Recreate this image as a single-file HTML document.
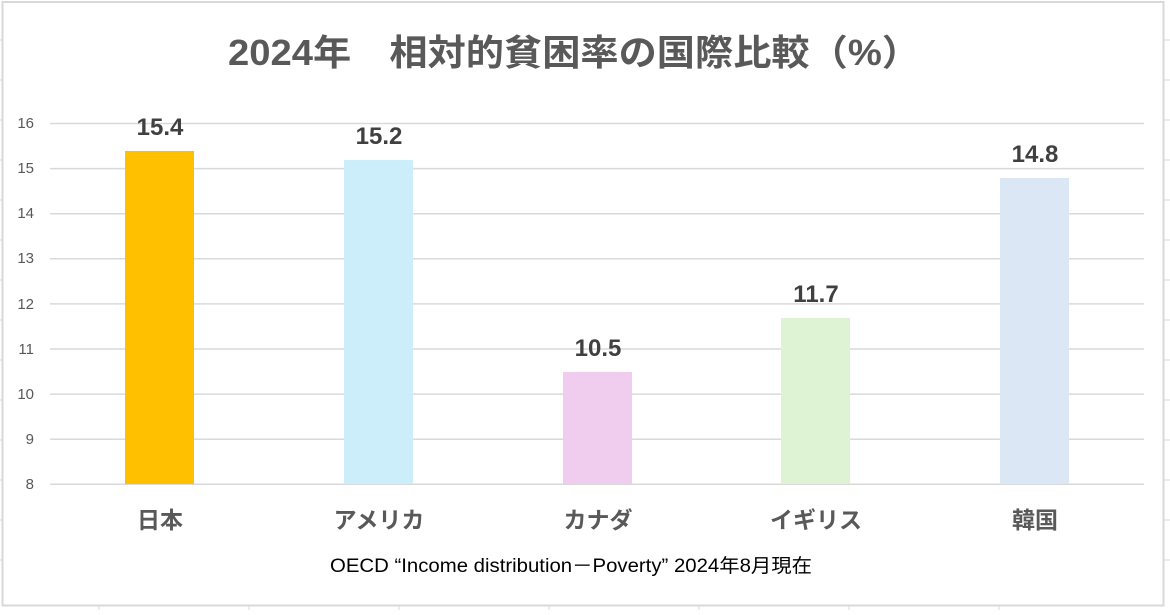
<!DOCTYPE html>
<html><head><meta charset="utf-8"><style>
body{margin:0;background:#fff;}
svg text{font-family:"Liberation Sans","Noto Sans CJK JP",sans-serif;}
</style></head><body>
<svg width="1170" height="610" xmlns="http://www.w3.org/2000/svg">
<rect x="0" y="0" width="1170" height="610" fill="#fff"/>
<g stroke="#d9d9d9" stroke-width="1">
<line x1="0" y1="40" x2="3" y2="40"/><line x1="0" y1="80" x2="3" y2="80"/><line x1="0" y1="120" x2="3" y2="120"/><line x1="0" y1="160" x2="3" y2="160"/><line x1="0" y1="200" x2="3" y2="200"/><line x1="0" y1="240" x2="3" y2="240"/><line x1="0" y1="280" x2="3" y2="280"/><line x1="0" y1="320" x2="3" y2="320"/><line x1="0" y1="360" x2="3" y2="360"/><line x1="0" y1="400" x2="3" y2="400"/><line x1="0" y1="440" x2="3" y2="440"/><line x1="0" y1="480" x2="3" y2="480"/><line x1="0" y1="520" x2="3" y2="520"/><line x1="0" y1="560" x2="3" y2="560"/>
<line x1="1164" y1="40" x2="1170" y2="40"/><line x1="1164" y1="80" x2="1170" y2="80"/><line x1="1164" y1="120" x2="1170" y2="120"/><line x1="1164" y1="160" x2="1170" y2="160"/><line x1="1164" y1="200" x2="1170" y2="200"/><line x1="1164" y1="240" x2="1170" y2="240"/><line x1="1164" y1="280" x2="1170" y2="280"/><line x1="1164" y1="320" x2="1170" y2="320"/><line x1="1164" y1="360" x2="1170" y2="360"/><line x1="1164" y1="400" x2="1170" y2="400"/><line x1="1164" y1="440" x2="1170" y2="440"/><line x1="1164" y1="480" x2="1170" y2="480"/><line x1="1164" y1="520" x2="1170" y2="520"/><line x1="1164" y1="560" x2="1170" y2="560"/>
<line x1="99" y1="606" x2="99" y2="610"/><line x1="249" y1="606" x2="249" y2="610"/><line x1="399" y1="606" x2="399" y2="610"/><line x1="549" y1="606" x2="549" y2="610"/><line x1="699" y1="606" x2="699" y2="610"/><line x1="849" y1="606" x2="849" y2="610"/><line x1="999" y1="606" x2="999" y2="610"/>
</g>
<rect x="2.5" y="2" width="1161" height="603.5" fill="none" stroke="#d9d9d9" stroke-width="2"/>
<text x="228" y="65" textLength="692" lengthAdjust="spacingAndGlyphs" font-size="36" font-weight="bold" fill="#595959">2024年　相対的貧困率の国際比較（%）</text>
<g stroke="#d9d9d9" stroke-width="1.5">
<line x1="50" y1="123.5" x2="1144" y2="123.5"/><line x1="50" y1="168.6" x2="1144" y2="168.6"/><line x1="50" y1="213.7" x2="1144" y2="213.7"/><line x1="50" y1="258.8" x2="1144" y2="258.8"/><line x1="50" y1="303.9" x2="1144" y2="303.9"/><line x1="50" y1="349" x2="1144" y2="349"/><line x1="50" y1="394.1" x2="1144" y2="394.1"/><line x1="50" y1="439.2" x2="1144" y2="439.2"/><line x1="50" y1="484.3" x2="1144" y2="484.3"/>
</g>
<g font-size="15" fill="#595959" text-anchor="end">
<text x="34" y="128">16</text><text x="34" y="173">15</text><text x="34" y="218">14</text><text x="34" y="263">13</text><text x="34" y="309">12</text><text x="34" y="354">11</text><text x="34" y="399">10</text><text x="34" y="444">9</text><text x="34" y="489">8</text>
</g>
<rect x="125" y="151" width="69" height="333" fill="#FFC000"/>
<rect x="344" y="160" width="69" height="324" fill="#CCEEFB"/>
<rect x="563" y="372" width="69" height="112" fill="#F0CDEE"/>
<rect x="781" y="318" width="69" height="166" fill="#DDF3D3"/>
<rect x="1000" y="178" width="69" height="306" fill="#DCE7F6"/>
<g font-size="24" font-weight="bold" fill="#404040" text-anchor="middle">
<text x="160" y="135">15.4</text><text x="379" y="144">15.2</text><text x="598" y="356">10.5</text><text x="816" y="302">11.7</text><text x="1035" y="162">14.8</text>
</g>
<g font-size="23" font-weight="bold" fill="#595959" text-anchor="middle">
<text x="160" y="528">日本</text><text x="379" y="528">アメリカ</text><text x="598" y="528">カナダ</text><text x="816" y="528">イギリス</text><text x="1035" y="528">韓国</text>
</g>
<text x="330" y="572" textLength="482" lengthAdjust="spacingAndGlyphs" font-size="19" fill="#000">OECD “Income distribution－Poverty” 2024年8月現在</text>
</svg>
</body></html>
